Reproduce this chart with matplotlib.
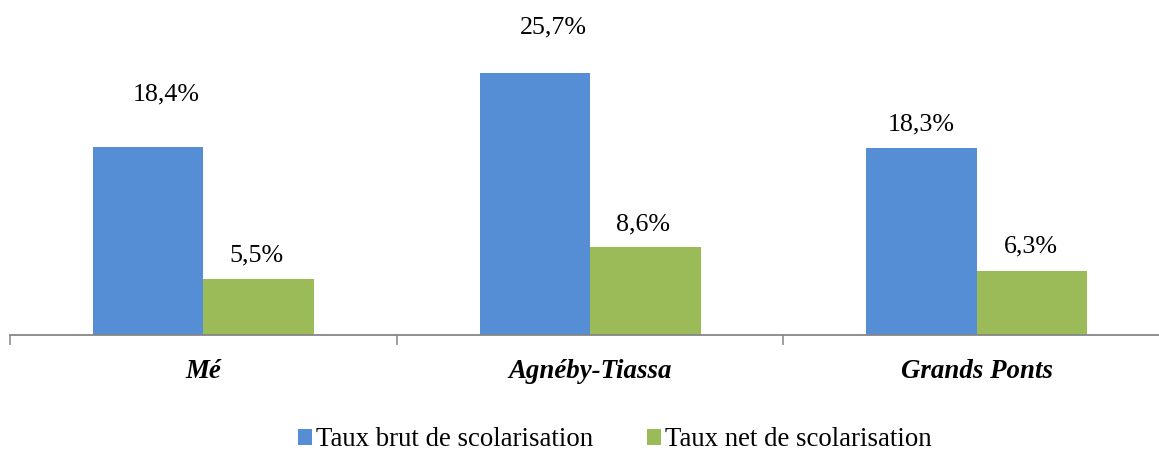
import matplotlib
matplotlib.use("Agg")
import matplotlib.pyplot as plt
from matplotlib.patches import Patch
import numpy as np

regions = ["Mé", "Agnéby-Tiassa", "Grands Ponts"]
series_names = ["Taux brut de scolarisation", "Taux net de scolarisation"]
taux_brut = [18.4, 25.7, 18.3]
taux_net = [5.5, 8.6, 6.3]

colors = ["#558ED5", "#9BBB59"]
# label placement (dx, dy) in pixels relative to the top centre of each bar
brut_label_offsets = [(18, 53), (19, 45), (0, 24)]
net_label_offsets = [(-2, 23), (-2, 23), (-1, 24)]

W, H = 1159, 454
fig = plt.figure(figsize=(W / 100, H / 100), dpi=100)
plt.rcParams["font.family"] = ["Liberation Serif", "DejaVu Serif"]
FS = 18.7
FS_CAT = 19.4
FS_LEG = 19.3

cat_w = 386.7
ax_left = 10 / W
ax_bottom = (H - 335) / H
ax_height = 306 / H
ax = fig.add_axes([ax_left, ax_bottom, 3 * cat_w / W, ax_height])

x = np.arange(len(regions))
bw = 1 / 3.5
b1 = ax.bar(x - bw / 2, taux_brut, bw, color=colors[0], label=series_names[0])
b2 = ax.bar(x + bw / 2, taux_net, bw, color=colors[1], label=series_names[1])

def fmt(v):
    return f"{v:.1f}".replace(".", ",") + "%"

for bars, vals, offs in ((b1, taux_brut, brut_label_offsets), (b2, taux_net, net_label_offsets)):
    for rect, v, (dx, dy) in zip(bars, vals, offs):
        ax.annotate(fmt(v), (rect.get_x() + rect.get_width() / 2, v),
                    xytext=(dx, dy), textcoords="offset pixels",
                    ha="center", va="center", fontsize=FS, color="black")

ax.set_xlim(-0.5, 2.5)
ax.set_ylim(0, 30)
for s in ("top", "right", "left"):
    ax.spines[s].set_visible(False)
ax.spines["bottom"].set_color("#868686")
ax.spines["bottom"].set_linewidth(1.3)
ax.set_yticks([])
ax.set_xticks([-0.5, 0.5, 1.5, 2.5])
ax.set_xticklabels([])
ax.tick_params(axis="x", length=7.5, width=1.1, color="#868686")
ax.set_xticks(x, minor=True)
ax.set_xticklabels(regions, minor=True, fontsize=FS_CAT, fontweight="bold", fontstyle="italic")
ax.tick_params(axis="x", which="minor", length=0, pad=17)

handles = [Patch(facecolor=c, edgecolor="none") for c in colors]
fig.legend(handles, series_names, loc="center", bbox_to_anchor=(615 / W, 1 - 440 / H),
           ncol=2, frameon=False, fontsize=FS_LEG, handlelength=0.52, handleheight=0.5,
           handletextpad=0.15, columnspacing=2.0, borderpad=0)

fig.savefig("out.png", dpi=100)
